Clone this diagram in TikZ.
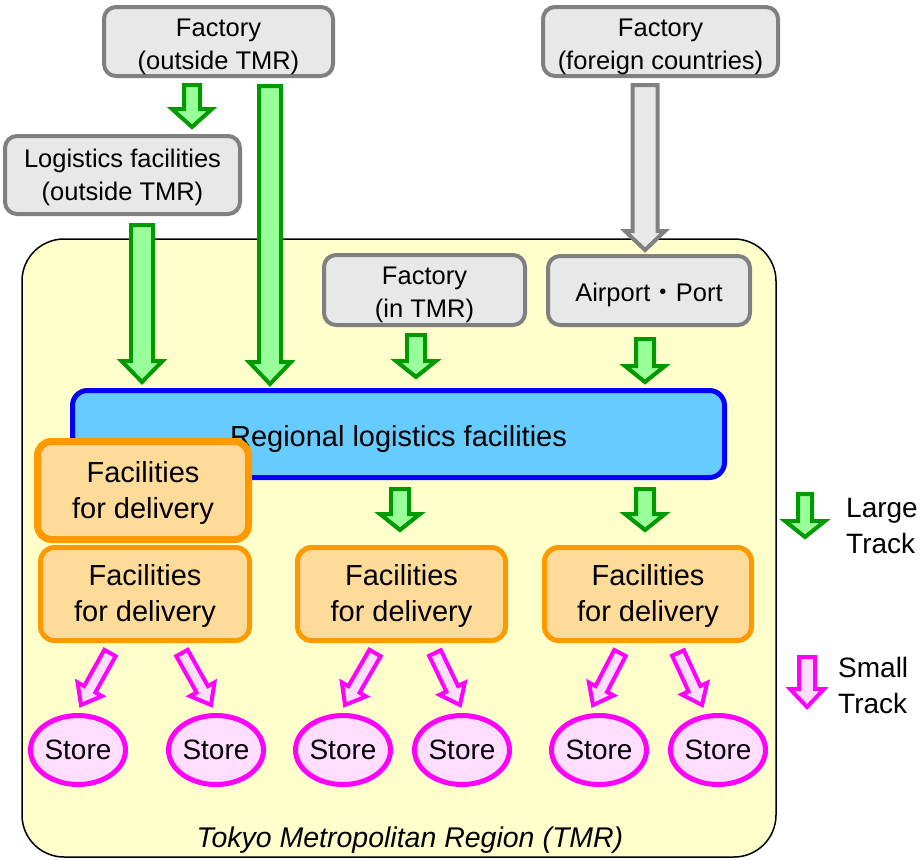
\documentclass[tikz,border=0pt]{standalone}
\usepackage{fontspec}
\setmainfont{Liberation Sans}
\newfontfamily\cjk{Noto Sans CJK JP}
\usetikzlibrary{calc,shapes.geometric}

\definecolor{grayline}{HTML}{808080}
\definecolor{grayfill}{HTML}{E8E8E8}
\definecolor{greenline}{HTML}{009900}
\definecolor{greenfill}{HTML}{99FF99}
\definecolor{pinkline}{HTML}{FF00FF}
\definecolor{pinkfill}{HTML}{FFDDFF}
\definecolor{orangeline}{HTML}{FF9900}
\definecolor{orangefill}{HTML}{FFDB99}
\definecolor{blueline}{HTML}{0000FF}
\definecolor{bluefill}{HTML}{66CCFF}
\definecolor{tmrfill}{HTML}{FFFFCC}

% block arrow: #1 style, #2 tail, #3 tip, #4 shaft half width, #5 head half width, #6 head length
\newcommand\blockarrow[6]{%
  \coordinate (hb) at ($(#3)!#6!(#2)$);
  \path[#1] ($(#2)!#4!90:(#3)$) -- ($(hb)!#4!90:(#3)$) -- ($(hb)!#5!90:(#3)$)
    -- (#3) -- ($(hb)!#5!-90:(#3)$) -- ($(hb)!#4!-90:(#3)$)
    -- ($(#2)!#4!-90:(#3)$) -- cycle;}
% invisible strut that lowers a text block inside its box
\newcommand\lowergap[1]{\rule{0pt}{#1}}

\tikzset{
  graybox/.style={draw=grayline, fill=grayfill, line width=4pt, rounded corners=12pt,
    align=center, inner sep=0pt, font=\fontsize{25.5}{33}\selectfont},
  bluebox/.style={draw=blueline, fill=bluefill, line width=5pt, rounded corners=15pt,
    inner sep=0pt, font=\fontsize{29}{36}\selectfont},
  delivbox/.style={draw=orangeline, fill=orangefill, line width=5pt, rounded corners=14pt,
    align=center, inner sep=0pt, minimum height=93pt, font=\fontsize{29}{36}\selectfont},
  storenode/.style={ellipse, draw=pinkline, fill=pinkfill, line width=5pt, inner sep=0pt,
    minimum width=95pt, minimum height=69pt, font=\fontsize{28}{34}\selectfont},
  greenarrow/.style={draw=greenline, fill=greenfill, line width=4pt},
  grayarrow/.style={draw=grayline, fill=grayfill, line width=4pt},
  pinkarrow/.style={draw=pinkline, fill=pinkfill, line width=4pt},
  legendtext/.style={align=left, inner sep=0pt, anchor=west, font=\fontsize{28}{36}\selectfont},
}

\begin{document}
\begin{tikzpicture}[x=1pt, y=-1pt]
\useasboundingbox (0,0) rectangle (922,860);
\fill[white] (0,0) rectangle (922,860);

% region
\draw[fill=tmrfill, line width=1.5pt, rounded corners=42pt] (22,239) rectangle (776,857);
\node[font=\itshape\fontsize{28.5}{34}\selectfont] (tmrlabel) at (410,840) {Tokyo Metropolitan Region (TMR)};

% sources
\node[graybox, minimum width=229pt, minimum height=69pt] (fo) at (218.5,41.5) {\lowergap{28pt}Factory\\(outside TMR)};
\node[graybox, minimum width=235pt, minimum height=69pt] (ff) at (660.5,41.5) {\lowergap{28pt}Factory\\(foreign countries)};
\node[graybox, minimum width=235pt, minimum height=78pt] (lo) at (122.5,175) {\lowergap{22.5pt}Logistics facilities\\(outside TMR)};
\node[graybox, minimum width=201pt, minimum height=70pt] (fi) at (424.5,290) {\lowergap{28pt}Factory\\(in TMR)};
\node[graybox, minimum width=202pt, minimum height=69pt] (ap) at (649,290.5)
  {\lowergap{27pt}Airport{\cjk ・}Port};

% regional hub
\node[bluebox, minimum width=652pt, minimum height=87pt] (rg) at (398.5,434) {\lowergap{31pt}Regional logistics facilities};

% delivery facilities
\node[delivbox, minimum width=209pt] (d1) at (145,594) {\lowergap{26pt}Facilities\\for delivery};
\node[delivbox, minimum width=208pt] (d2) at (401.5,594) {\lowergap{26pt}Facilities\\for delivery};
\node[delivbox, minimum width=207pt] (d3) at (648,594) {\lowergap{26pt}Facilities\\for delivery};
\node[delivbox, line width=7pt, minimum width=211pt, minimum height=98pt] (d0) at (143,490.5) {\lowergap{26pt}Facilities\\for delivery};

% stores
\node[storenode] (s1) at (78,750) {Store};
\node[storenode] (s2) at (216,750) {Store};
\node[storenode] (s3) at (343,750) {Store};
\node[storenode] (s4) at (462,750) {Store};
\node[storenode] (s5) at (599,750) {Store};
\node[storenode] (s6) at (718,750) {Store};

% arrow ends
\coordinate (fo-lo-t) at (192,85);   \coordinate (fo-lo-h) at (192,127);
\coordinate (fo-rg-t) at (270,86);   \coordinate (fo-rg-h) at (270,384);
\coordinate (lo-rg-t) at (142,225);  \coordinate (lo-rg-h) at (142,382);
\coordinate (ff-ap-t) at (645,85);   \coordinate (ff-ap-h) at (645,250);
\coordinate (fi-rg-t) at (416,335);  \coordinate (fi-rg-h) at (416,377);
\coordinate (ap-rg-t) at (645,339);  \coordinate (ap-rg-h) at (645,382);
\coordinate (rg-d2-t) at (400,489);  \coordinate (rg-d2-h) at (400,530);
\coordinate (rg-d3-t) at (645,489);  \coordinate (rg-d3-h) at (645,530);
\coordinate (d1-s1-t) at (110,653);  \coordinate (d1-s1-h) at (81,705);
\coordinate (d1-s2-t) at (182,653);  \coordinate (d1-s2-h) at (211,705);
\coordinate (d2-s3-t) at (375,653);  \coordinate (d2-s3-h) at (345,705);
\coordinate (d2-s4-t) at (435,653);  \coordinate (d2-s4-h) at (460,705);
\coordinate (d3-s5-t) at (620,653);  \coordinate (d3-s5-h) at (593,705);
\coordinate (d3-s6-t) at (678,653);  \coordinate (d3-s6-h) at (702,705);
\coordinate (lg-t) at (805,494);     \coordinate (lg-h) at (805,537);
\coordinate (ls-t) at (807,657);     \coordinate (ls-h) at (807,707);

% large trucks
\blockarrow{greenarrow}{fo-lo-t}{fo-lo-h}{8pt}{20pt}{18pt}
\blockarrow{greenarrow}{fo-rg-t}{fo-rg-h}{11pt}{21pt}{22pt}
\blockarrow{greenarrow}{lo-rg-t}{lo-rg-h}{11pt}{20.5pt}{21pt}
\blockarrow{greenarrow}{fi-rg-t}{fi-rg-h}{9pt}{20pt}{16pt}
\blockarrow{greenarrow}{ap-rg-t}{ap-rg-h}{9pt}{20pt}{16pt}
\blockarrow{greenarrow}{rg-d2-t}{rg-d2-h}{9pt}{20pt}{16pt}
\blockarrow{greenarrow}{rg-d3-t}{rg-d3-h}{9pt}{20pt}{16pt}

% import route
\blockarrow{grayarrow}{ff-ap-t}{ff-ap-h}{12.5pt}{20pt}{19pt}

% small trucks
\blockarrow{pinkarrow}{d1-s1-t}{d1-s1-h}{6.5pt}{14pt}{18pt}
\blockarrow{pinkarrow}{d1-s2-t}{d1-s2-h}{6.5pt}{14pt}{18pt}
\blockarrow{pinkarrow}{d2-s3-t}{d2-s3-h}{6.5pt}{14pt}{18pt}
\blockarrow{pinkarrow}{d2-s4-t}{d2-s4-h}{6.5pt}{14pt}{18pt}
\blockarrow{pinkarrow}{d3-s5-t}{d3-s5-h}{6.5pt}{14pt}{18pt}
\blockarrow{pinkarrow}{d3-s6-t}{d3-s6-h}{6.5pt}{14pt}{18pt}

% legend
\blockarrow{greenarrow}{lg-t}{lg-h}{7pt}{20pt}{16pt}
\node[legendtext] (lgtext) at (846,526) {Large\\Track};
\blockarrow{pinkarrow}{ls-t}{ls-h}{8pt}{17pt}{18pt}
\node[legendtext] (lstext) at (838,685) {Small\\Track};
\end{tikzpicture}
\end{document}
